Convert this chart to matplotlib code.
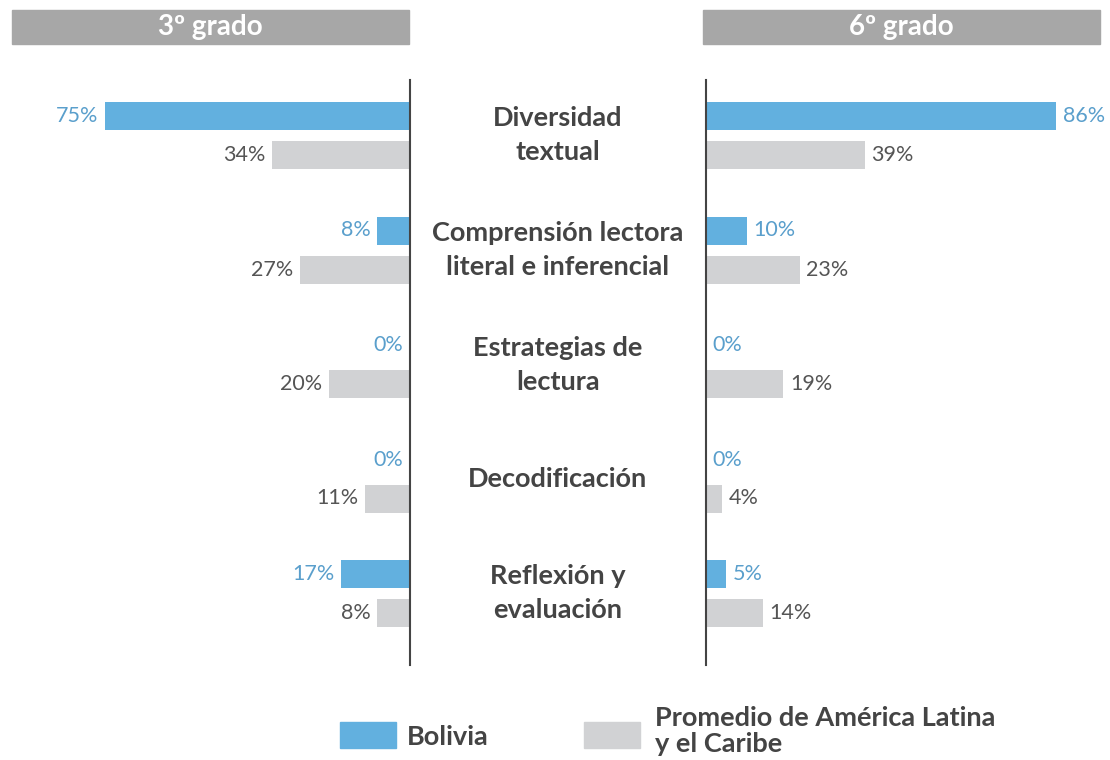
import matplotlib.pyplot as plt
from matplotlib.patches import Rectangle

# datos
categorias = ["Diversidad\ntextual", "Comprensión lectora\nliteral e inferencial",
              "Estrategias de\nlectura", "Decodificación", "Reflexión y\nevaluación"]
bolivia_3 = [75, 8, 0, 0, 17]
promedio_3 = [34, 27, 20, 11, 8]
bolivia_6 = [86, 10, 0, 0, 5]
promedio_6 = [39, 23, 19, 4, 14]
grados = ["3º grado", "6º grado"]
leyenda = ["Bolivia", "Promedio de América Latina\ny el Caribe"]

AZUL = "#62b0df"
GRIS = "#d1d2d4"
TXT_AZUL = "#5a9fcc"
TXT_GRIS = "#555555"
TXT_OSC = "#444444"
CAJA = "#a7a7a7"

plt.rcParams['font.family'] = ['Lato', 'DejaVu Sans']

W, H = 1110, 760
fig = plt.figure(figsize=(W / 100, H / 100), dpi=100)

def caja(x0, y0, x1, y1):
    # de pixeles (origen arriba-izq) a coords de figura
    return [x0 / W, 1 - y1 / H, (x1 - x0) / W, (y1 - y0) / H]

px_pct = 4.07           # pixeles por punto porcentual
ytop, ybot = 80, 665
paso = 114.5
off = 39 / paso
alto = 28 / paso
y0 = -36 / paso
y1 = y0 + (ybot - ytop) / paso

ax_l = fig.add_axes(caja(12, ytop, 410, ybot))
ax_r = fig.add_axes(caja(706, ytop, 1100, ybot))
ax_l.set_xlim(398 / px_pct, 0)
ax_r.set_xlim(0, 394 / px_pct)

filas = range(len(categorias))
for ax, bol, prom, lado in [(ax_l, bolivia_3, promedio_3, -1), (ax_r, bolivia_6, promedio_6, 1)]:
    ax.barh([i for i in filas], bol, height=alto, color=AZUL)
    ax.barh([i + off for i in filas], prom, height=alto, color=GRIS)
    ha = "right" if lado < 0 else "left"
    for i in filas:
        ax.text(bol[i] + 1.6, i, f"{bol[i]}%", ha=ha, va="center",
                color=TXT_AZUL, fontsize=15.5)
        ax.text(prom[i] + 1.6, i + off, f"{prom[i]}%", ha=ha, va="center",
                color=TXT_GRIS, fontsize=15.5)
    ax.set_ylim(y1, y0)
    for s in ax.spines.values():
        s.set_visible(False)
    lado_sp = "right" if lado < 0 else "left"
    ax.spines[lado_sp].set_visible(True)
    ax.spines[lado_sp].set_color("#444444")
    ax.spines[lado_sp].set_linewidth(1.5)
    ax.set_xticks([])
    ax.set_yticks([])
    ax.patch.set_alpha(0)

# etiquetas de categoria al centro
for i in filas:
    yc = ytop + (i - y0 + off / 2) * paso
    fig.text(558 / W, 1 - yc / H, categorias[i], ha="center", va="center",
             fontsize=19.5, fontweight="bold", color=TXT_OSC, linespacing=1.5)

# encabezados
for (x0, x1), g in zip([(12, 409), (703, 1100)], grados):
    fig.patches.append(Rectangle((x0 / W, 1 - 44 / H), (x1 - x0) / W, 34 / H,
                                 transform=fig.transFigure, color=CAJA))
    fig.text((x0 + x1) / 2 / W, 1 - 27 / H, g, ha="center", va="center",
             fontsize=20, fontweight="bold", color="white")

# leyenda
fig.patches.append(Rectangle((340 / W, 1 - 748 / H), 56 / W, 26 / H,
                             transform=fig.transFigure, color=AZUL))
fig.patches.append(Rectangle((584 / W, 1 - 748 / H), 56 / W, 26 / H,
                             transform=fig.transFigure, color=GRIS))
fig.text(407 / W, 1 - 737 / H, leyenda[0], ha="left", va="center",
         fontsize=19.5, fontweight="bold", color=TXT_OSC)
fig.text(655 / W, 1 - 731 / H, leyenda[1], ha="left", va="center",
         fontsize=19.5, fontweight="bold", color=TXT_OSC, linespacing=1.15)

fig.savefig("out.png", dpi=100, facecolor="white")
